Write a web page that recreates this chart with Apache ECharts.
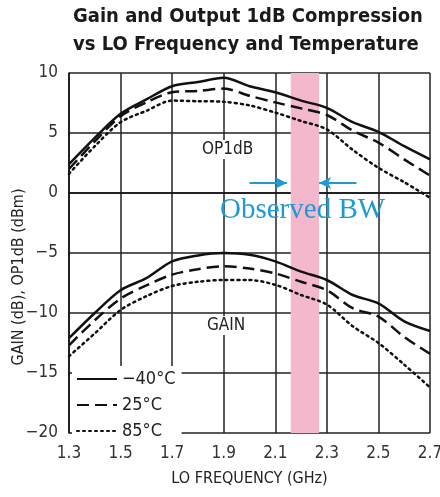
<!DOCTYPE html>
<html style="height: 100%">
<head>
    <meta charset="UTF-8">
    <title>Gain and OP1dB vs LO Frequency</title>
    <script type="text/javascript" src="https://cdn.jsdelivr.net/npm/echarts@6/dist/echarts.min.js"></script>
</head>
<body style="height: 100%; margin: 0; background: #fff">
    <div id="container" style="width: 440px; height: 497px"></div>
    <script type="text/javascript">
        // LO frequency (GHz)
        var freqs = [1.3, 1.4, 1.5, 1.6, 1.7, 1.8, 1.9, 2.0, 2.1, 2.2, 2.3, 2.4, 2.5, 2.6, 2.7];
        // output 1dB compression (dBm)
        var op1dbM40 = [2.4, 4.6, 6.6, 7.8, 8.9, 9.25, 9.6, 8.9, 8.4, 7.7, 7.1, 5.9, 5.1, 3.9, 2.8];
        var op1db25 = [2.0, 4.3, 6.4, 7.55, 8.4, 8.5, 8.7, 8.1, 7.55, 7.05, 6.5, 5.2, 4.2, 2.8, 1.45];
        var op1db85 = [1.6, 3.9, 5.9, 6.85, 7.7, 7.65, 7.6, 7.3, 6.7, 6.0, 5.3, 3.6, 2.1, 0.9, -0.4];
        // conversion gain (dB)
        var gainM40 = [-12.1, -10.0, -8.1, -7.1, -5.7, -5.2, -5.0, -5.15, -5.7, -6.55, -7.25, -8.5, -9.2, -10.7, -11.5];
        var gain25 = [-12.7, -10.6, -8.8, -7.7, -6.8, -6.35, -6.1, -6.3, -6.7, -7.4, -8.1, -9.6, -10.3, -12.0, -13.4];
        var gain85 = [-13.6, -11.7, -9.75, -8.6, -7.75, -7.4, -7.25, -7.25, -7.65, -8.5, -9.3, -11.1, -12.5, -14.3, -16.2];
        var tempNames = ['\u221240\u00b0C', '25\u00b0C', '85\u00b0C'];
        // observed bandwidth (GHz)
        var bwBand = [2.16, 2.27];

        var X0 = 1.3; // axis starts here; x values are plotted as offsets so ticks land on 1.3, 1.5 ...
        var font = "'Liberation Sans Narrow', 'DejaVu Sans Condensed', 'Liberation Sans', sans-serif";

        function pts(vals) {
            return freqs.map(function (f, i) {
                return [+(f - X0).toFixed(3), vals[i]];
            });
        }
        function minus(s) {
            return String(s).replace('-', '\u2212');
        }

        var styles = [
            { type: 'solid', width: 2.5 },
            { type: [12, 6], width: 2.5 },
            { type: [2, 4], width: 2.5, cap: 'round' }
        ];

        function line(name, vals, k) {
            return {
                name: name,
                type: 'line',
                data: pts(vals),
                symbol: 'none',
                smooth: 0.3,
                z: 5,
                lineStyle: Object.assign({ color: '#111' }, styles[k]),
                itemStyle: { color: '#111' }
            };
        }

        var myChart = echarts.init(document.getElementById('container'));

        var option = {
            animation: false,
            textStyle: { fontFamily: font },
            title: {
                text: 'Gain and Output 1dB Compression\nvs LO Frequency and Temperature',
                left: 68,
                top: -2,
                textStyle: {
                    fontFamily: font,
                    fontWeight: 'bold',
                    fontSize: 20,
                    lineHeight: 28,
                    color: '#1a1a1a'
                }
            },
            grid: { left: 69, right: 10, top: 73, bottom: 64, outerBoundsMode: 'none', containLabel: false },
            legend: {
                data: tempNames,
                orient: 'vertical',
                left: 72,
                top: 366,
                itemWidth: 40,
                itemHeight: 14,
                itemGap: 8,
                padding: [4, 6, 4, 4],
                backgroundColor: '#fff',
                itemStyle: { opacity: 0 },
                textStyle: { fontSize: 18, color: '#222', fontFamily: font }
            },
            xAxis: {
                type: 'value',
                min: 0,
                max: 1.4,
                interval: 0.2,
                name: 'LO FREQUENCY (GHz)',
                nameLocation: 'middle',
                nameGap: 38,
                nameTextStyle: { fontSize: 16, color: '#222', fontFamily: font },
                axisLine: { lineStyle: { color: '#111', width: 1.5 } },
                axisTick: { show: false },
                axisLabel: {
                    fontSize: 17,
                    color: '#333',
                    margin: 12,
                    formatter: function (v) { return (v + X0).toFixed(1); }
                },
                splitLine: { lineStyle: { color: '#222', width: 1.5 } }
            },
            yAxis: {
                type: 'value',
                min: -20,
                max: 10,
                interval: 5,
                axisLine: { show: true, lineStyle: { color: '#111', width: 1.5 } },
                axisTick: { show: false },
                axisLabel: {
                    fontSize: 17,
                    color: '#333',
                    margin: 11,
                    formatter: function (v) { return minus(v); }
                },
                splitLine: { lineStyle: { color: '#222', width: 1.5 } }
            },
            series: [
                {
                    name: 'band',
                    type: 'line',
                    data: [],
                    z: 2,
                    markArea: {
                        silent: true,
                        itemStyle: { color: '#f4b8cc' },
                        data: [[{ xAxis: bwBand[0] - X0 }, { xAxis: bwBand[1] - X0 }]]
                    },
                    markLine: {
                        silent: true,
                        symbol: ['none', 'arrow'],
                        symbolSize: [9, 12],
                        label: { show: false },
                        lineStyle: { color: '#1e9ad6', width: 2, type: 'solid' },
                        data: [
                            [{ coord: [2.0 - X0, 0.83] }, { coord: [2.145 - X0, 0.83] }],
                            [{ coord: [2.415 - X0, 0.83] }, { coord: [2.27 - X0, 0.83] }]
                        ]
                    }
                },
                line(tempNames[0], op1dbM40, 0),
                line(tempNames[1], op1db25, 1),
                line(tempNames[2], op1db85, 2),
                line(tempNames[0], gainM40, 0),
                line(tempNames[1], gain25, 1),
                line(tempNames[2], gain85, 2)
            ],
            graphic: [
                {
                    // y axis title, set by hand so it sits where the original does
                    type: 'text',
                    x: 19,
                    y: 277,
                    rotation: Math.PI / 2,
                    style: {
                        text: 'GAIN (dB), OP1dB (dBm)',
                        fontSize: 16,
                        fontFamily: font,
                        fill: '#222',
                        align: 'center',
                        verticalAlign: 'middle'
                    }
                },
                {
                    type: 'text',
                    left: 200,
                    top: 140,
                    z: 3,
                    style: {
                        text: 'OP1dB',
                        fontSize: 17,
                        fontFamily: font,
                        fill: '#222',
                        backgroundColor: '#fff',
                        padding: [1, 2]
                    }
                },
                {
                    type: 'text',
                    left: 205,
                    top: 316,
                    z: 3,
                    style: {
                        text: 'GAIN',
                        fontSize: 17,
                        fontFamily: font,
                        fill: '#222',
                        backgroundColor: '#fff',
                        padding: [1, 2]
                    }
                },
                {
                    type: 'text',
                    left: 220,
                    top: 196,
                    z: 10,
                    style: {
                        text: 'Observed BW',
                        fontSize: 29,
                        fontFamily: "'Liberation Serif', 'DejaVu Serif', serif",
                        fill: '#1e9ad6'
                    }
                }
            ]
        };

        myChart.setOption(option);
    </script>
</body>
</html>
